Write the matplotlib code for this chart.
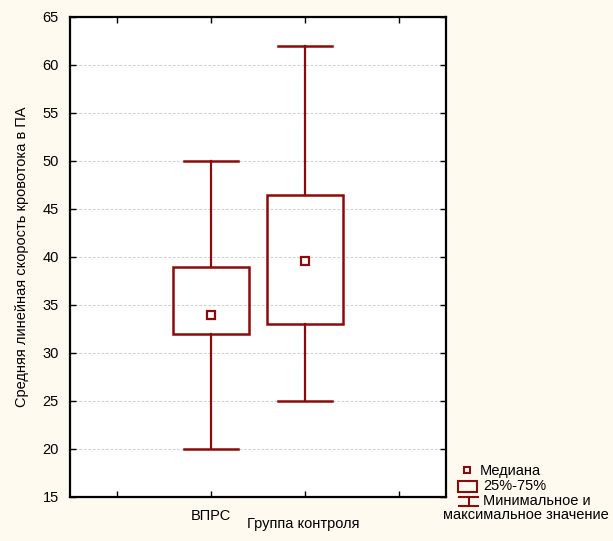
import matplotlib
matplotlib.use("Agg")
import matplotlib.pyplot as plt
from matplotlib.patches import Rectangle
from matplotlib.lines import Line2D

plt.rcParams['font.family'] = ['Liberation Sans', 'DejaVu Sans']

groups = ["ВПРС", ""]
positions = [1.5, 2.5]
minimum = [20, 25]
q1 = [32, 33]
median = [34, 39.6]
q3 = [39, 46.5]
maximum = [50, 62]

y_ticks = [15, 20, 25, 30, 35, 40, 45, 50, 55, 60, 65]
x_ticks = [0.5, 1.5, 2.5, 3.5]
x_tick_labels = ["", "ВПРС", "", ""]

col = "#8B0A0A"
bg = "#FFFAEF"
fs = 10.5

fig = plt.figure(figsize=(6.13, 5.41), dpi=100, facecolor=bg)
ax = fig.add_axes([70/613, 1-497/541, 376/613, 480/541])
ax.set_facecolor("white")

box_w = 0.81
cap_w = 0.58
for p, mn, a, md, b, mx in zip(positions, minimum, q1, median, q3, maximum):
    ax.add_patch(Rectangle((p - box_w/2, a), box_w, b - a, fill=False, edgecolor=col, lw=1.8, zorder=3))
    ax.plot([p, p], [b, mx], color=col, lw=1.6, zorder=3)
    ax.plot([p, p], [mn, a], color=col, lw=1.6, zorder=3)
    ax.plot([p - cap_w/2, p + cap_w/2], [mx, mx], color=col, lw=1.8, zorder=3)
    ax.plot([p - cap_w/2, p + cap_w/2], [mn, mn], color=col, lw=1.8, zorder=3)
    ax.plot([p], [md], marker='s', ms=5.5, mfc='white', mec=col, mew=1.6, zorder=4)

ax.set_xlim(0, 4)
ax.set_ylim(15, 65)
ax.set_yticks(y_ticks)
ax.set_xticks(x_ticks)
ax.set_xticklabels(x_tick_labels)
ax.tick_params(direction='in', length=4, width=1, labelsize=fs, top=True, right=True, pad=8)
ax.tick_params(axis='x', pad=9)
ax.yaxis.grid(True, color='#D4D4D4', ls=(0, (2.5, 1.5)), lw=0.8)
ax.set_axisbelow(True)
for s in ax.spines.values():
    s.set_linewidth(1.6)
    s.set_color('black')

ax.set_ylabel("Средняя линейная скорость кровотока в ПА", fontsize=fs, labelpad=10)
fig.text(303/613, 1-524/541, "Группа контроля", fontsize=fs, ha='center', va='center')

# Legend (custom)
fx = lambda x: x/613
fy = lambda y: 1 - y/541
fig.add_artist(Line2D([fx(467)], [fy(470)], marker='s', ms=5, mfc='white', mec=col, mew=1.5, transform=fig.transFigure))
fig.add_artist(Rectangle((fx(458), fy(492)), 19/613, 11/541, fill=False, edgecolor=col, lw=1.5, transform=fig.transFigure))
fig.add_artist(Line2D([fx(459), fx(478)], [fy(497), fy(497)], color=col, lw=1.5, transform=fig.transFigure))
fig.add_artist(Line2D([fx(459), fx(478)], [fy(506), fy(506)], color=col, lw=1.5, transform=fig.transFigure))
fig.add_artist(Line2D([fx(468.5), fx(468.5)], [fy(497), fy(506)], color=col, lw=1.5, transform=fig.transFigure))
fig.text(fx(480), fy(471), "Медиана", fontsize=fs, va='center', ha='left')
fig.text(fx(483), fy(486), "25%-75%", fontsize=fs, va='center', ha='left')
fig.text(fx(483), fy(501), "Минимальное и", fontsize=fs, va='center', ha='left')
fig.text(fx(443), fy(515), "максимальное значение", fontsize=fs, va='center', ha='left')

fig.savefig("out.png", dpi=100, facecolor=bg)
